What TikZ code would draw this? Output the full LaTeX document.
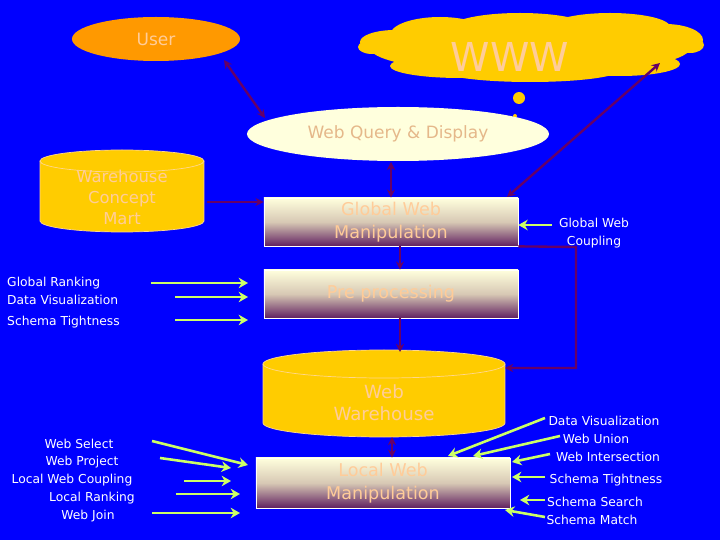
\documentclass[tikz,border=0pt]{standalone}
\usepackage{fontspec}
\setmainfont{DejaVu Sans}
\usetikzlibrary{arrows.meta,calc,shapes.geometric}
\definecolor{bg}{RGB}{0,0,255}
\definecolor{usr}{RGB}{255,153,0}
\definecolor{yel}{RGB}{255,204,0}
\definecolor{peach}{RGB}{255,204,153}
\definecolor{cream}{RGB}{255,255,221}
\definecolor{plum}{RGB}{102,0,102}
\definecolor{lime}{RGB}{204,255,102}
\definecolor{boxbot}{RGB}{96,32,96}
\definecolor{boxmid}{RGB}{215,200,180}
\definecolor{cylline}{RGB}{255,215,140}
\tikzset{
  purp/.style={draw=plum, line width=2pt},
  parrow/.style={purp, -{Stealth[length=7pt,width=7pt]}},
  pdarrow/.style={purp, {Stealth[length=7pt,width=7pt]}-{Stealth[length=7pt,width=7pt]}},
  garrow/.style={draw=lime, line width=2.2pt, -{Stealth[length=8pt,width=9pt]}},
  lbl/.style={text=white, font=\fontsize{10.5}{12}\selectfont, inner sep=0},
  nodetxt/.style={text=peach, font=\fontsize{15}{20}\selectfont, align=center},
  procbox/.style={draw=white, line width=0.6pt, top color=cream, bottom color=boxbot, middle color=boxmid,
    minimum width=7.62cm, minimum height=1.44cm, inner sep=0, nodetxt},
}
\begin{document}
\begin{tikzpicture}[x=0.03cm, y=-0.03cm]
\useasboundingbox (0,0) rectangle (720,540);
\fill[bg] (0,0) rectangle (720,540);

% cloud
\begin{scope}[fill=yel]
  \fill (530,48) ellipse [x radius=4.8cm, y radius=0.78cm];
  \fill (395,42) ellipse [x radius=1.05cm, y radius=0.36cm];
  \fill (440,35) ellipse [x radius=1.5cm, y radius=0.54cm];
  \fill (520,28) ellipse [x radius=2.1cm, y radius=0.45cm];
  \fill (610,27) ellipse [x radius=1.8cm, y radius=0.42cm];
  \fill (665,40) ellipse [x radius=1.14cm, y radius=0.48cm];
  \fill (690,45) ellipse [x radius=0.42cm, y radius=0.24cm];
  \fill (372,47) ellipse [x radius=0.42cm, y radius=0.21cm];
  \fill (460,66) ellipse [x radius=2.1cm, y radius=0.36cm];
  \fill (530,70) ellipse [x radius=2.7cm, y radius=0.36cm];
  \fill (620,64) ellipse [x radius=1.8cm, y radius=0.36cm];
  \fill (519,98) circle [radius=0.18cm];
  \fill (515,116) circle [radius=0.06cm];
\end{scope}
\node[text=peach, font=\fontsize{34}{40}\selectfont] (www) at (510,57) {WWW};
\coordinate (cloudpt) at (660,63);

% user and query
\node[ellipse, fill=usr, minimum width=5.04cm, minimum height=1.32cm, inner sep=0,
      text=peach, font=\fontsize{14.5}{17}\selectfont] (user) at (156,39) {User};
\node[ellipse, fill=cream, minimum width=9.06cm, minimum height=1.62cm, inner sep=0,
      text=peach!90!black, font=\fontsize{14.5}{17}\selectfont] (wq) at (398,134) {Web Query \& Display};

% Warehouse Concept Mart cylinder
\fill[yel] (40,161) rectangle (204,221);
\fill[yel] (122,221) ellipse [x radius=2.46cm, y radius=0.33cm];
\fill[yel] (122,161) ellipse [x radius=2.46cm, y radius=0.33cm];
\draw[cylline, line width=0.6pt] (122,161) ellipse [x radius=2.46cm, y radius=0.33cm];
\draw[cylline, line width=0.6pt] (40,161) -- (40,221) arc[start angle=180, end angle=360, x radius=2.46cm, y radius=0.33cm] -- (204,161);
\node[nodetxt, font=\fontsize{14}{18}\selectfont, inner sep=0] (wcm) at (122,197) {Warehouse\\Concept\\Mart};

% Web Warehouse cylinder
\fill[yel] (263,364) rectangle (505,423);
\fill[yel] (384,423) ellipse [x radius=3.63cm, y radius=0.42cm];
\fill[yel] (384,364) ellipse [x radius=3.63cm, y radius=0.42cm];
\draw[cylline, line width=0.6pt] (384,364) ellipse [x radius=3.63cm, y radius=0.42cm];
\draw[cylline, line width=0.6pt] (263,364) -- (263,423) arc[start angle=180, end angle=360, x radius=3.63cm, y radius=0.42cm] -- (505,364);
\node[nodetxt, inner sep=0, font=\fontsize{15.5}{19}\selectfont] (ww) at (384,403) {Web\\Warehouse};

% process boxes
\node[procbox] (gwm) at (391,222) {Global Web\\Manipulation};
\node[procbox] (pre) at (391,294) {Pre processing};
\node[procbox, minimum height=1.5cm] (lwm) at (383,483) {Local Web\\Manipulation};

% purple connectors
\coordinate (u1) at (224,60);
\coordinate (q1) at (265,118);
\draw[pdarrow] (u1) -- (q1);
\draw[pdarrow] (gwm.north |- 0,162) -- (gwm.north);
\coordinate (gwmtr) at (507,197);
\draw[pdarrow] (cloudpt) -- (gwmtr);
\coordinate (wcmr) at (207,202);
\draw[parrow] (wcmr) -- (gwm.west |- 0,202);
\draw[parrow] ($(gwm.south)+(9,0)$) -- ($(pre.north)+(9,0)$);
\coordinate (wwr) at (505,368);
\draw[parrow] (gwm.south east) -- (576,247) -- (576,368) -- (wwr);
\draw[parrow] ($(pre.south)+(9,0)$) -- (400,352);
\draw[pdarrow] (392,437) -- (lwm.north -| 392,0);

% left labels
\node[lbl, anchor=west] (l1) at (7,283) {Global Ranking};
\node[lbl, anchor=west] (l2) at (7,300) {Data Visualization};
\node[lbl, anchor=west] (l3) at (7,322) {Schema Tightness};
\draw[garrow] (151,283) -- (248,283);
\draw[garrow] (175,297) -- (248,297);
\draw[garrow] (175,320) -- (248,320);

\node[lbl] (b1) at (79,444) {Web Select};
\node[lbl] (b2) at (82,462) {Web Project};
\node[lbl] (b3) at (72,480) {Local Web Coupling};
\node[lbl] (b4) at (92,498) {Local Ranking};
\node[lbl] (b5) at (88,516) {Web Join};
\draw[garrow] (152,441) -- (248,465);
\draw[garrow] (160,458) -- (231,468);
\draw[garrow] (184,481) -- (231,481);
\draw[garrow] (176,494) -- (240,494);
\draw[garrow] (152,513) -- (240,513);

% right labels
\node[lbl, align=center, font=\fontsize{10.5}{15}\selectfont] (gwc) at (594,233) {Global Web\\Coupling};
\draw[garrow] (552,225) -- (gwm.east |- 0,225);

\node[lbl] (r1) at (604,421) {Data Visualization};
\node[lbl] (r2) at (596,439) {Web Union};
\node[lbl] (r3) at (608,457) {Web Intersection};
\node[lbl] (r4) at (606,480) {Schema Tightness};
\node[lbl] (r5) at (595,502) {Schema Search};
\node[lbl] (r6) at (592,520) {Schema Match};
\draw[garrow] (545,418) -- (448,456);
\draw[garrow] (560,436) -- (473,456);
\draw[garrow] (550,454) -- (512,462);
\draw[garrow] (545,477) -- (512,477);
\draw[garrow] (545,500) -- (520,500);
\draw[garrow] (545,517) -- (505,510);
\end{tikzpicture}
\end{document}
